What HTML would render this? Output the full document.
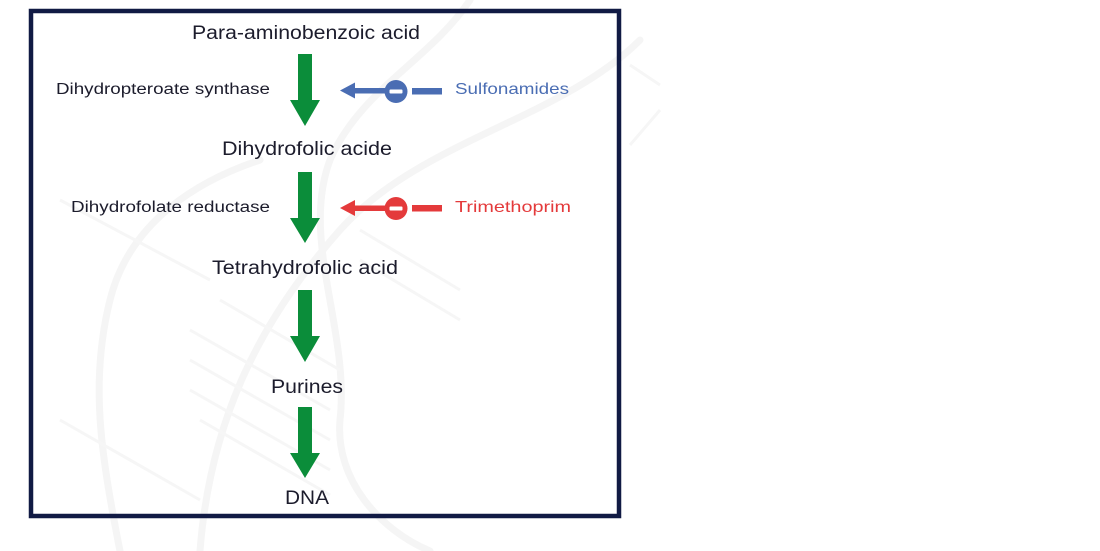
<!DOCTYPE html>
<html>
<head>
<meta charset="utf-8">
<style>
  html,body{margin:0;padding:0;background:#ffffff;}
  body{width:1100px;height:551px;overflow:hidden;}
  svg{display:block;}
  text{font-family:"Liberation Sans", Arial, sans-serif;}
</style>
</head>
<body>
<svg width="1100" height="551" viewBox="0 0 1100 551" xmlns="http://www.w3.org/2000/svg">
  <rect x="0" y="0" width="1100" height="551" fill="#ffffff"/>

  <!-- faint DNA watermark -->
  <g fill="none" stroke="#f5f5f5" stroke-width="7" stroke-linecap="round">
    <path d="M640 40 C 560 120, 420 140, 340 230 C 260 320, 210 420, 200 551"/>
    <path d="M470 0 C 430 60, 360 90, 330 160 C 300 240, 350 330, 340 420 C 335 480, 380 530, 430 551"/>
    <path d="M120 551 C 100 450, 90 380, 110 300 C 130 220, 200 180, 260 160"/>
  </g>
  <g stroke="#f6f6f6" stroke-width="3">
    <line x1="190" y1="330" x2="330" y2="410"/>
    <line x1="190" y1="360" x2="330" y2="440"/>
    <line x1="190" y1="390" x2="330" y2="470"/>
    <line x1="200" y1="420" x2="330" y2="495"/>
    <line x1="220" y1="300" x2="340" y2="370"/>
    <line x1="360" y1="230" x2="460" y2="290"/>
    <line x1="360" y1="260" x2="460" y2="320"/>
    <line x1="630" y1="65" x2="660" y2="85"/>
    <line x1="630" y1="145" x2="660" y2="110"/>
    <line x1="60" y1="200" x2="210" y2="280"/>
    <line x1="60" y1="420" x2="200" y2="500"/>
  </g>

  <!-- frame -->
  <rect x="31" y="11" width="588" height="505" fill="none" stroke="#111a44" stroke-width="4.5"/>

  <!-- green arrows -->
  <g fill="#0b8d3a">
    <polygon points="298,54 312,54 312,100 320,100 305,126 290,100 298,100"/>
    <polygon points="298,172 312,172 312,218 320,218 305,243 290,218 298,218"/>
    <polygon points="298,290 312,290 312,336 320,336 305,362 290,336 298,336"/>
    <polygon points="298,407 312,407 312,453 320,453 305,478 290,453 298,453"/>
  </g>

  <!-- blue inhibitor -->
  <g fill="#4a6db3">
    <polygon points="340,90.5 355,82.5 355,88 386,88 386,93.5 355,93.5 355,98.5"/>
    <circle cx="396" cy="91.5" r="11.5"/>
    <rect x="412" y="88" width="30" height="6.5"/>
  </g>
  <rect x="389.5" y="89.5" width="13" height="4" rx="1" fill="#ffffff"/>

  <!-- red inhibitor -->
  <g fill="#e43a3b">
    <polygon points="340,208 355,200 355,205.5 386,205.5 386,211 355,211 355,216"/>
    <circle cx="396" cy="208.5" r="11.5"/>
    <rect x="412" y="205" width="30" height="6.5"/>
  </g>
  <rect x="389.5" y="206.5" width="13" height="4" rx="1" fill="#ffffff"/>

  <!-- labels -->
  <g fill="#1c1c2c">
    <text x="192" y="39" font-size="19" textLength="228" lengthAdjust="spacingAndGlyphs">Para-aminobenzoic acid</text>
    <text x="56" y="94" font-size="15.5" textLength="214" lengthAdjust="spacingAndGlyphs">Dihydropteroate synthase</text>
    <text x="222" y="155" font-size="19" textLength="170" lengthAdjust="spacingAndGlyphs">Dihydrofolic acide</text>
    <text x="71" y="212" font-size="15.5" textLength="199" lengthAdjust="spacingAndGlyphs">Dihydrofolate reductase</text>
    <text x="212" y="274" font-size="19" textLength="186" lengthAdjust="spacingAndGlyphs">Tetrahydrofolic acid</text>
    <text x="271" y="393" font-size="19" textLength="72" lengthAdjust="spacingAndGlyphs">Purines</text>
    <text x="285" y="504" font-size="19" textLength="44" lengthAdjust="spacingAndGlyphs">DNA</text>
  </g>
  <text x="455" y="94" font-size="16" fill="#4a6db3" textLength="114" lengthAdjust="spacingAndGlyphs">Sulfonamides</text>
  <text x="455" y="212" font-size="16" fill="#e43a3b" textLength="116" lengthAdjust="spacingAndGlyphs">Trimethoprim</text>
</svg>
</body>
</html>
